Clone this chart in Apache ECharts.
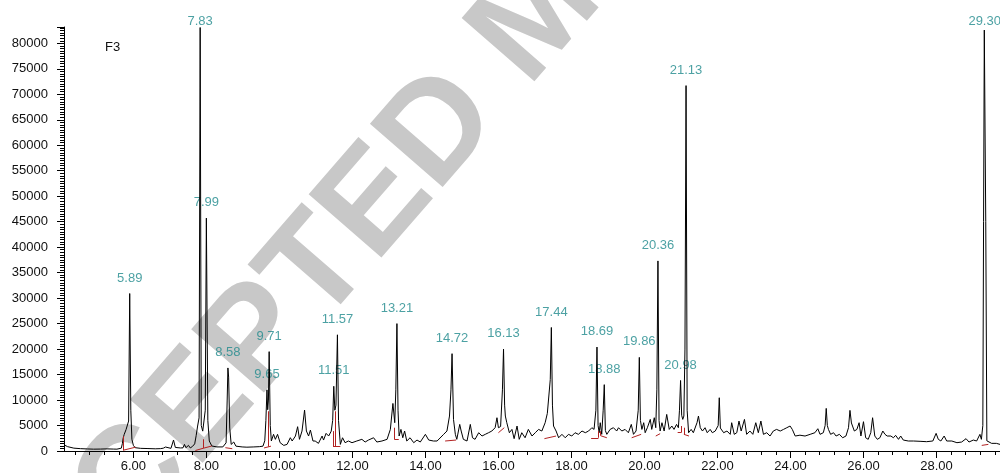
<!DOCTYPE html>
<html>
<head>
<meta charset="utf-8">
<script src="https://cdn.jsdelivr.net/npm/echarts@6/dist/echarts.min.js"></script>
<style>
html,body{margin:0;padding:0;background:#fff;}
#chart{width:1000px;height:473px;}
</style>
</head>
<body>
<div id="chart"></div>
<script>
// Retention time (min) of trace points
var times = [4.11,4.20,4.37,4.55,4.75,4.91,5.10,5.28,5.45,5.55,5.67,5.70,5.72,5.75,5.80,5.83,5.87,5.90,5.93,5.96,6.00,6.05,6.20,6.40,6.60,6.74,6.82,6.88,6.93,7.03,7.10,7.15,7.29,7.36,7.40,7.44,7.51,7.56,7.62,7.68,7.72,7.76,7.80,7.83,7.86,7.90,7.94,7.97,8.00,8.04,8.08,8.15,8.29,8.45,8.54,8.57,8.59,8.61,8.64,8.68,8.75,8.81,8.98,9.11,9.30,9.45,9.55,9.60,9.63,9.66,9.68,9.70,9.72,9.75,9.78,9.84,9.89,9.95,10.02,10.12,10.21,10.30,10.35,10.44,10.50,10.55,10.62,10.69,10.74,10.80,10.85,10.92,10.98,11.07,11.17,11.21,11.28,11.35,11.42,11.46,11.49,11.52,11.55,11.59,11.62,11.67,11.73,11.80,11.89,11.99,12.12,12.26,12.35,12.44,12.58,12.67,12.81,12.95,13.04,13.11,13.16,13.19,13.22,13.25,13.28,13.33,13.38,13.43,13.49,13.58,13.68,13.77,13.86,14.00,14.09,14.22,14.32,14.50,14.59,14.66,14.70,14.73,14.77,14.82,14.86,14.94,14.98,15.04,15.14,15.23,15.29,15.36,15.46,15.55,15.64,15.73,15.82,15.91,15.96,16.00,16.06,16.11,16.14,16.17,16.19,16.23,16.30,16.37,16.43,16.51,16.57,16.64,16.73,16.82,16.92,17.01,17.10,17.19,17.28,17.34,17.39,17.42,17.45,17.48,17.51,17.58,17.65,17.74,17.83,17.92,18.01,18.10,18.19,18.29,18.38,18.47,18.56,18.62,18.67,18.70,18.73,18.76,18.79,18.83,18.87,18.90,18.93,18.97,19.06,19.15,19.24,19.29,19.38,19.47,19.56,19.64,19.70,19.77,19.83,19.86,19.89,19.93,19.98,20.02,20.08,20.16,20.20,20.27,20.31,20.34,20.37,20.40,20.43,20.48,20.54,20.61,20.68,20.75,20.81,20.88,20.93,20.96,20.99,21.02,21.05,21.08,21.11,21.14,21.17,21.21,21.28,21.34,21.44,21.48,21.53,21.59,21.66,21.72,21.80,21.86,21.94,22.02,22.05,22.08,22.10,22.17,22.26,22.35,22.39,22.46,22.53,22.59,22.65,22.74,22.80,22.89,22.97,23.05,23.12,23.19,23.26,23.35,23.44,23.53,23.62,23.72,23.81,23.90,23.99,24.05,24.13,24.26,24.40,24.54,24.67,24.75,24.81,24.90,24.95,24.98,25.01,25.04,25.10,25.18,25.25,25.34,25.43,25.52,25.59,25.63,25.67,25.70,25.75,25.82,25.88,25.93,26.00,26.06,26.13,26.20,26.25,26.31,26.38,26.45,26.53,26.59,26.65,26.75,26.82,26.88,26.96,27.02,27.09,27.23,27.37,27.55,27.73,27.90,27.99,28.05,28.12,28.21,28.28,28.42,28.56,28.69,28.81,28.89,29.01,29.10,29.19,29.23,29.27,29.29,29.31,29.33,29.35,29.38,29.51,29.64,29.74];
// Abundance at each point
var abundance = [1170,850,560,460,400,360,380,420,380,360,560,1500,2500,3270,4200,4570,5880,30900,8000,2300,1100,650,520,480,430,460,550,780,500,520,2150,700,600,620,1300,650,1100,600,900,1400,3000,4900,6500,83100,5000,3900,3800,8000,45700,6000,1960,980,800,800,1600,10000,16300,14500,4500,1300,1760,950,800,750,800,850,950,2000,6000,12000,8100,10000,19500,5000,1960,3270,2290,3270,1630,1100,1300,2610,1960,2940,4770,2290,3920,8030,3920,2940,4110,1960,1960,1500,2940,2150,3460,2940,3900,6000,12700,8000,9000,22800,6000,1300,2600,1630,1960,1630,1960,2290,1760,2150,2600,1760,1960,2290,4240,9330,5550,12000,25000,8000,2940,4240,2600,3920,1960,2600,1630,2150,1760,3270,2150,1960,1960,3270,3920,6860,12000,19100,6200,3270,2290,5220,3920,2290,1960,5220,2600,2290,3590,2940,3270,3590,3920,4570,6530,4570,4800,12000,20000,9000,6860,5550,3590,4240,2420,4900,2290,3590,2600,4240,2940,3590,4240,3920,5550,7380,7000,14000,24240,9000,4900,3920,2600,3270,2600,3270,2940,3590,3270,3920,3590,3920,4570,4240,8000,20400,5000,3590,5550,3270,8000,13020,4000,3270,4240,4570,3920,4570,3920,4240,3590,5220,3270,3920,8000,18370,6000,4240,5550,3590,4570,6200,4240,6530,4570,12000,37300,6000,3920,5550,3920,7180,4240,4900,4240,5220,4570,8000,13840,7000,6200,6860,20000,71700,8000,3590,4240,3590,5550,6860,4570,3920,4570,3590,4240,3590,3920,5000,10450,4500,4240,3590,3920,3270,5550,3270,3590,5880,3920,6200,3270,3920,3270,5550,3590,5880,3270,3590,2940,3920,4240,3920,4240,4570,4900,4240,2940,3100,2940,3270,3590,4370,3270,3590,5000,8360,5000,4240,3270,3590,2940,3270,2600,2940,4570,7970,5500,4900,3920,4240,5550,2940,5750,2600,2290,3590,6530,2940,2290,2600,3920,3270,2940,2940,2600,3070,2290,2940,2150,1960,1960,1900,1830,1960,3460,2290,1960,2940,1960,1960,1630,1760,2420,1760,2150,1960,3270,2290,5000,45000,82600,82600,45000,2000,1500,1500,1300];

// Labelled peaks
var peakNames = ['5.89','7.83','7.99','8.58','9.65','9.71','11.51','11.57','13.21','14.72','16.13','17.44','18.69','18.88','19.86','20.36','20.98','21.13','29.30'];
var peakTimes = [5.90,7.83,8.00,8.59,9.66,9.72,11.49,11.59,13.22,14.73,16.14,17.45,18.70,18.90,19.86,20.37,20.99,21.14,29.32];
var peakHeights = [30900,83100,45700,16300,12000,19500,12700,22800,25000,19100,20000,24240,20400,13020,18370,37300,13840,71700,82600];

// Integration baseline marks [t1, v1, t2, v2]
var baselineMarks = [
  [5.72,150,6.06,750],[5.72,150,5.72,2900],
  [7.70,100,7.92,550],[7.92,550,7.92,2300],[7.92,550,8.15,980],
  [8.52,650,8.71,450],
  [9.58,600,9.77,950],[9.70,850,9.70,7800],
  [11.47,950,11.67,950],[11.47,950,11.47,3900],[11.53,950,11.53,7800],
  [13.15,2290,13.27,2290],[13.15,2290,13.15,4570],
  [14.54,1960,14.84,2150],
  [16.00,3590,16.16,4570],
  [17.26,2420,17.58,2940],
  [18.54,2600,18.74,2600],[18.74,2600,18.74,3900],[18.80,3000,18.97,2600],[18.80,3000,18.80,3900],
  [19.65,2600,19.91,3270],
  [20.31,2940,20.43,3400],
  [20.91,3590,21.00,3590],[21.00,3590,21.00,4900],[21.08,3270,21.08,4570],[21.08,3270,21.22,2940],
  [29.24,1100,29.42,1300]
];

// Axis ticks
var xLabelValues = [6,8,10,12,14,16,18,20,22,24,26,28];
var xMinorTicks = [4.4,4.8,5.2,5.6,6.0,6.4,6.8,7.2,7.6,8.0,8.4,8.8,9.2,9.6,10.0,10.4,10.8,11.2,11.6,12.0,12.4,12.8,13.2,13.6,14.0,14.4,14.8,15.2,15.6,16.0,16.4,16.8,17.2,17.6,18.0,18.4,18.8,19.2,19.6,20.0,20.4,20.8,21.2,21.6,22.0,22.4,22.8,23.2,23.6,24.0,24.4,24.8,25.2,25.6,26.0,26.4,26.8,27.2,27.6,28.0,28.4,28.8,29.2,29.6];

var FONT = '"Liberation Sans", Arial, sans-serif';
var TEAL = '#1f8a8c';

var trace = times.map(function (t, i) { return [t, abundance[i]]; });
var labelPts = peakTimes.map(function (t, i) {
  return { value: [t, Math.min(peakHeights[i], 81300)], name: peakNames[i] };
});
var marks = baselineMarks.map(function (m) {
  return { coords: [[m[0], m[1]], [m[2], m[3]]] };
});

var chart = echarts.init(document.getElementById('chart'), null, { renderer: 'canvas' });
chart.setOption({
  animation: false,
  backgroundColor: '#fff',
  graphic: [{
    type: 'text',
    z: -10,
    silent: true,
    x: 540, y: 16,
    rotation: 49 * Math.PI / 180,
    style: {
      text: 'ACCEPTED MANUSCRIPT',
      font: 'bold 140px "Liberation Sans", Arial, sans-serif',
      fill: '#c8c8c8',
      textAlign: 'center',
      textVerticalAlign: 'middle'
    }
  }, {
    type: 'text',
    x: 105, y: 47,
    style: { text: 'F3', font: '13px "Liberation Sans", Arial, sans-serif', fill: '#111', textVerticalAlign: 'middle' }
  }],
  grid: { left: 64, right: 0, top: 27, bottom: 21, containLabel: false },
  xAxis: [{
    type: 'value', min: 4.1, max: 29.74,
    axisLine: { show: true, lineStyle: { color: '#000', width: 1 } },
    axisTick: { show: true, customValues: xLabelValues, length: 7, lineStyle: { color: '#000' } },
    axisLabel: { customValues: xLabelValues, margin: 9, color: '#111', fontSize: 13, fontFamily: FONT,
      formatter: function (v) { return Number(v).toFixed(2); } },
    splitLine: { show: false }
  }, {
    type: 'value', min: 4.1, max: 29.74, position: 'bottom',
    axisLine: { show: false },
    axisTick: { show: true, customValues: xMinorTicks, length: 4, lineStyle: { color: '#000' } },
    axisLabel: { show: false },
    splitLine: { show: false }
  }],
  yAxis: {
    type: 'value', min: 0, max: 83200, interval: 5000,
    axisLine: { show: true, lineStyle: { color: '#000', width: 1 } },
    axisTick: { show: true, length: 7, lineStyle: { color: '#000' } },
    minorTick: { show: true, splitNumber: 10, length: 4, lineStyle: { color: '#000' } },
    axisLabel: { margin: 16, color: '#111', fontSize: 13, fontFamily: FONT, showMaxLabel: false,
      formatter: function (v) { return String(v); } },
    splitLine: { show: false }
  },
  series: [{
    type: 'scatter',
    z: 1,
    symbolSize: 0,
    silent: true,
    data: labelPts,
    label: { show: true, position: 'top', distance: 9, color: TEAL, fontSize: 13, fontFamily: FONT,
      formatter: function (p) { return p.name; } }
  }, {
    type: 'lines',
    coordinateSystem: 'cartesian2d',
    z: 3,
    silent: true,
    lineStyle: { color: '#b22222', width: 1, opacity: 1, curveness: 0 },
    data: marks
  }, {
    type: 'line',
    z: 2,
    data: trace,
    showSymbol: false,
    symbol: 'none',
    lineStyle: { color: '#000', width: 1 },
    clip: true
  }]
});
</script>
</body>
</html>
